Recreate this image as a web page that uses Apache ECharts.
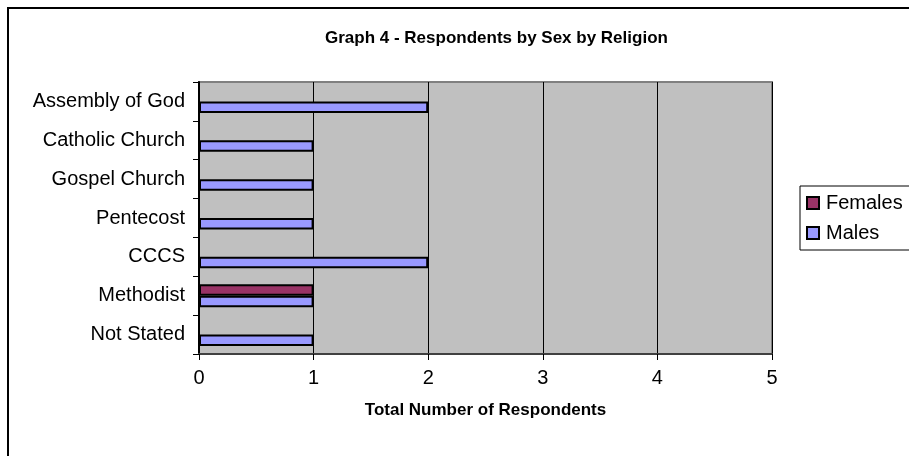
<!DOCTYPE html>
<html>
<head>
<meta charset="utf-8">
<script src="https://cdn.jsdelivr.net/npm/echarts@6/dist/echarts.min.js"></script>
<style>html,body{margin:0;padding:0;background:#fff}#c{width:909px;height:456px}</style>
</head>
<body>
<div id="c"></div>
<script>
// Categories listed bottom-to-top
const categories = ['Not Stated', 'Methodist', 'CCCS', 'Pentecost', 'Gospel Church', 'Catholic Church', 'Assembly of God'];
const males = [1, 1, 2, 1, 1, 1, 2];
const females = [0, 1, 0, 0, 0, 0, 0];
const xTicks = [0, 1, 2, 3, 4, 5];

const chart = echarts.init(document.getElementById('c'));
const font = 'Liberation Sans, Arial, sans-serif';
chart.setOption({
  backgroundColor: '#ffffff',
  animation: false,
  title: {
    text: 'Graph 4 - Respondents by Sex by Religion',
    left: 325, top: 30, padding: 0,
    textStyle: {fontFamily: font, fontSize: 17, fontWeight: 'bold', color: '#000'}
  },
  legend: {
    data: ['Females', 'Males'],
    orient: 'vertical',
    left: 800, top: 186,
    padding: [6, 7, 6, 6],
    itemGap: 8,
    itemWidth: 12, itemHeight: 12,
    icon: 'rect',
    borderColor: '#000', borderWidth: 1,
    backgroundColor: '#fff',
    textStyle: {fontFamily: font, fontSize: 20, lineHeight: 22, color: '#000', padding: [0, 0, 0, 2]}
  },
  grid: {left: 199, top: 82, right: 137, bottom: 102, show: true, backgroundColor: '#c0c0c0', borderColor: '#808080', borderWidth: 2},
  xAxis: {
    type: 'value', min: 0, max: 5, interval: 1,
    name: 'Total Number of Respondents', nameLocation: 'middle', nameGap: 48,
    nameTextStyle: {fontFamily: font, fontSize: 17, fontWeight: 'bold', color: '#000'},
    axisLine: {show: true, lineStyle: {color: '#404040', width: 2}},
    axisTick: {show: true, length: 6, lineStyle: {color: '#000'}},
    axisLabel: {fontFamily: font, fontSize: 20, color: '#000', margin: 14, formatter: v => xTicks.includes(v) ? String(v) : ''},
    splitLine: {show: true, lineStyle: {color: '#000', width: 1}}
  },
  yAxis: {
    type: 'category', data: categories,
    axisLine: {show: true, lineStyle: {color: '#000', width: 2}},
    axisTick: {show: true, length: 6, lineStyle: {color: '#000'}},
    axisLabel: {fontFamily: font, fontSize: 20, color: '#000', margin: 14},
    splitLine: {show: false}
  },
  series: [
    {name: 'Females', type: 'bar', data: females.map(v => v === 0 ? null : v), barWidth: 11.5, barGap: '0%',
     itemStyle: {color: '#993366', borderColor: '#000', borderWidth: 2}},
    {name: 'Males', type: 'bar', data: males, barWidth: 11.5, barGap: '0%',
     itemStyle: {color: '#9999ff', borderColor: '#000', borderWidth: 2}}
  ],
  graphic: [{
    type: 'rect', shape: {x: 8, y: 8, width: 1000, height: 1000},
    style: {fill: 'none', stroke: '#000', lineWidth: 2}, z: 100
  }]
});
</script>
</body>
</html>
